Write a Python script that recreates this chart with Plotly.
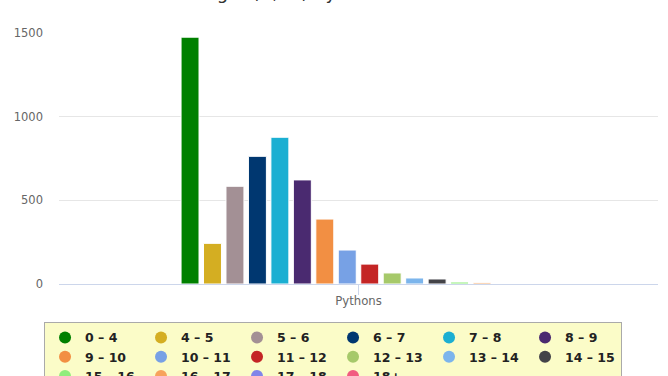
import plotly.graph_objects as go

category = ["Pythons"]
series_names = ["0 – 4", "4 – 5", "5 – 6", "6 – 7", "7 – 8", "8 – 9",
                "9 – 10", "10 – 11", "11 – 12", "12 – 13", "13 – 14", "14 – 15",
                "15 – 16", "16 – 17", "17 – 18", "18+"]
series_values = [1475, 243, 584, 763, 877, 622,
                 388, 203, 119, 66, 36, 30,
                 12, 8, 0, 0]
series_colors = ["#008000", "#D4AE22", "#A39095", "#003770", "#1BAFD2", "#4A2A70",
                 "#F28F43", "#77A1E5", "#C42525", "#A6C96A", "#7CB5EC", "#434348",
                 "#90ED7D", "#F7A35C", "#8085E9", "#F15C80"]
y_ticks = [0, 500, 1000, 1500]
title_text = "Snake Length (ft, m) by Count"

fig = go.Figure()
for name, val, col in zip(series_names, series_values, series_colors):
    fig.add_trace(go.Bar(x=category, y=[val], name=name, marker_color=col,
                         marker_line_color="white", marker_line_width=1,
                         showlegend=False, legendgroup=name))
for name, col in zip(series_names, series_colors):
    fig.add_trace(go.Scatter(x=[None], y=[None], mode="markers", name=name,
                             marker=dict(color=col, size=12, symbol="circle"),
                             legendgroup=name, showlegend=True))

fig.update_layout(
    width=668, height=376,
    margin=dict(l=59, r=10, t=33, b=92, autoexpand=False),
    paper_bgcolor="white", plot_bgcolor="white",
    barmode="group", bargap=0.4, bargroupgap=0.2,
    font=dict(family="DejaVu Sans", color="#666666"),
    xaxis=dict(type="category", range=[-0.5, 0.5], showline=True, linecolor="#CCD6EB",
               linewidth=1, ticks="outside", ticklen=10, tickcolor="#CCD6EB",
               showgrid=False, ticklabelstandoff=-4,
               tickfont=dict(size=11.7, color="#666666")),
    yaxis=dict(range=[0, 1500], tickvals=y_ticks, showgrid=True, gridcolor="#E6E6E6",
               zeroline=False, ticks="", ticklabelstandoff=15,
               tickfont=dict(size=11.5, color="#666666")),
    legend=dict(orientation="h", x=-0.025, xanchor="left", y=-0.151, yanchor="top",
                bgcolor="#FBFCC8", bordercolor="#AAAAAA", borderwidth=1,
                entrywidth=51, entrywidthmode="pixels", itemsizing="trace",
                font=dict(family="DejaVu Sans", size=12.5, color="#222222", weight="bold"),
                traceorder="normal"),
    annotations=[dict(text=title_text, xref="paper", yref="paper", x=0.105, y=1.112,
                      xanchor="left", yanchor="bottom", showarrow=False,
                      font=dict(family="DejaVu Sans", size=18, color="#333333"))],
)

fig.write_html("out.html", config={"displayModeBar": False},
               post_script="document.body.style.margin='0';")
